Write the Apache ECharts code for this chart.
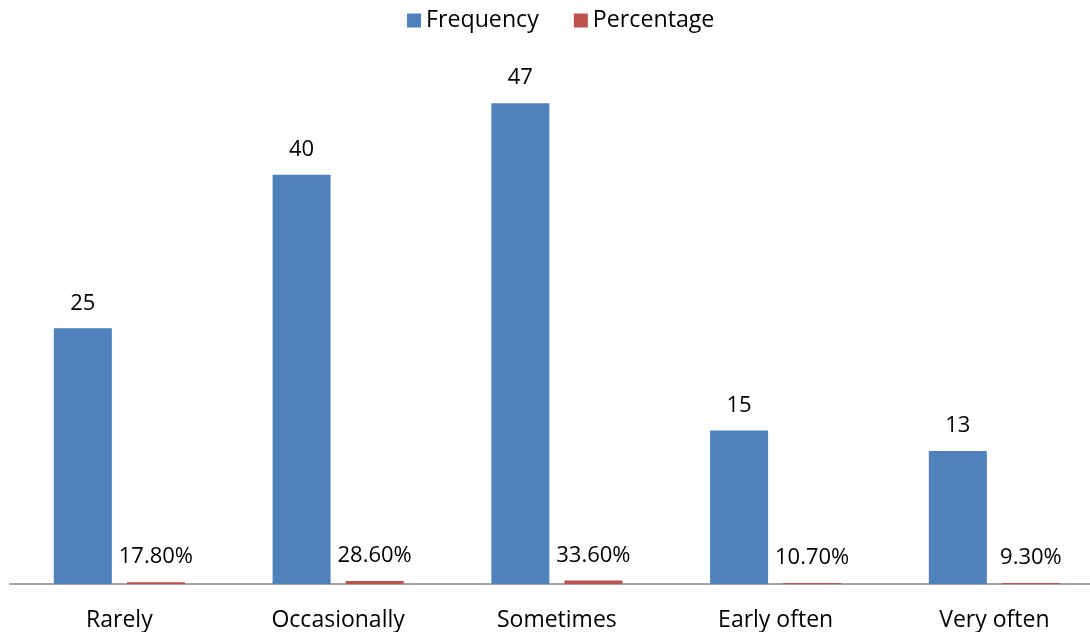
<!DOCTYPE html>
<html>
<head>
<meta charset="utf-8">
<script src="https://cdn.jsdelivr.net/npm/echarts@6/dist/echarts.min.js"></script>
<style>
  html, body { margin: 0; padding: 0; background: #fff; overflow: hidden; }
  #chart { width: 1104px; height: 632px; }
</style>
</head>
<body>
<div id="chart"></div>
<script>
// Response frequency by category
const categories = ['Rarely', 'Occasionally', 'Sometimes', 'Early often', 'Very often'];
const frequency = [25, 40, 47, 15, 13];
const percentage = [17.8, 28.6, 33.6, 10.7, 9.3];

const FONT = 'Open Sans';
const chart = echarts.init(document.getElementById('chart'));

chart.setOption({
  animation: false,
  textStyle: { fontFamily: FONT, color: '#000' },
  legend: {
    top: 4,
    left: 402,
    itemWidth: 14,
    itemHeight: 14,
    itemGap: 35,
    icon: 'rect',
    textStyle: { fontFamily: FONT, fontSize: 23.2, color: '#000' },
    data: ['Frequency', 'Percentage']
  },
  grid: { left: 10, right: 0.25, top: 72.5, bottom: 48 },
  xAxis: {
    type: 'category',
    data: categories,
    axisLine: { lineStyle: { color: '#888', width: 1.5 } },
    axisTick: { show: false },
    axisLabel: { fontFamily: FONT, fontSize: 23, color: '#000', margin: 25 }
  },
  yAxis: {
    type: 'value',
    min: 0,
    max: 50,
    show: false,
    splitLine: { show: false }
  },
  series: [
    {
      name: 'Frequency',
      type: 'bar',
      data: frequency,
      barWidth: 58,
      barGap: '26%',
      itemStyle: { color: '#4F81BD' },
      label: {
        show: true,
        position: 'top',
        distance: 14,
        fontFamily: FONT,
        fontSize: 22,
        color: '#000'
      }
    },
    {
      name: 'Percentage',
      type: 'bar',
      // percentages are plotted as fractions on the same scale
      data: percentage.map(p => p / 100),
      barWidth: 58,
      itemStyle: { color: '#C0504D' },
      label: {
        show: true,
        position: 'top',
        distance: 14,
        fontFamily: FONT,
        fontSize: 22,
        color: '#000',
        formatter: (p) => percentage[p.dataIndex].toFixed(2) + '%'
      }
    }
  ]
});
</script>
</body>
</html>
